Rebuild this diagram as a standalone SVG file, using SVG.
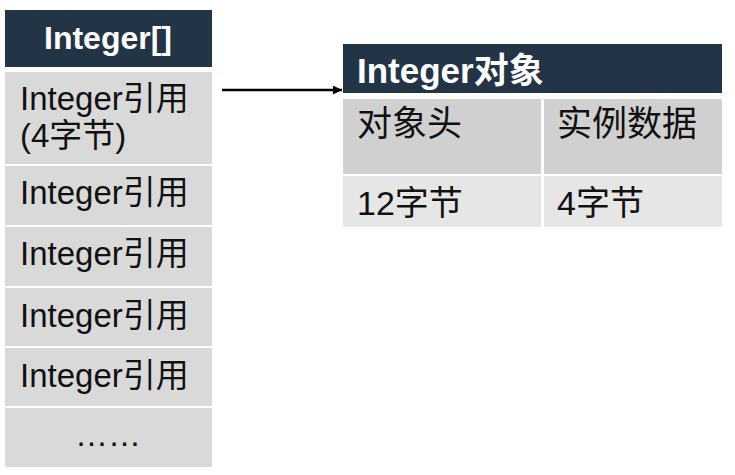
<svg xmlns="http://www.w3.org/2000/svg" width="735" height="475" viewBox="0 0 735 475">
<defs>
<style>
.hdr{fill:#243447}
.cell{fill:#d9d9d9}
.cellA{fill:#d0d0d0}
.cellB{fill:#e6e6e6}
.t{font-family:"Liberation Sans","Noto Sans CJK SC",sans-serif;fill:#111}
.h{font-family:"Liberation Sans","Noto Sans CJK SC",sans-serif;font-weight:bold;fill:#ffffff}
</style>
<marker id="arr" viewBox="0 0 10 10" refX="10" refY="5" markerWidth="12" markerHeight="9" markerUnits="userSpaceOnUse" orient="auto">
<path d="M0,0 L10,5 L0,10 z" fill="#000"/>
</marker>
</defs>
<rect width="735" height="475" fill="#ffffff"/>
<g id="array">
<rect class="hdr" x="5" y="10" width="207" height="57"/>
<text class="h" x="108" y="49" font-size="32" text-anchor="middle">Integer[]</text>
<rect class="cell" x="5" y="72" width="207" height="92"/>
<text class="t" x="20" y="110" font-size="33">Integer引用</text>
<text class="t" x="20" y="147" font-size="33">(4字节)</text>
<rect class="cell" x="5" y="166" width="207" height="59"/>
<text class="t" x="20" y="204" font-size="33">Integer引用</text>
<rect class="cell" x="5" y="227" width="207" height="59"/>
<text class="t" x="20" y="265" font-size="33">Integer引用</text>
<rect class="cell" x="5" y="288" width="207" height="58"/>
<text class="t" x="20" y="327" font-size="33">Integer引用</text>
<rect class="cell" x="5" y="348" width="207" height="58"/>
<text class="t" x="20" y="387" font-size="33">Integer引用</text>
<rect class="cell" x="5" y="408" width="207" height="59"/>
<text class="t" x="108" y="446" font-size="33" text-anchor="middle">……</text>
</g>
<g id="object">
<rect class="hdr" x="343" y="44" width="379" height="49"/>
<text class="h" x="357" y="83" font-size="35">Integer对象</text>
<rect class="cellA" x="343" y="99" width="198" height="75"/>
<rect class="cellA" x="544" y="99" width="178" height="75"/>
<text class="t" x="357" y="136" font-size="35">对象头</text>
<text class="t" x="557" y="136" font-size="35">实例数据</text>
<rect class="cellB" x="343" y="176" width="198" height="51"/>
<rect class="cellB" x="544" y="176" width="178" height="51"/>
<text class="t" x="357" y="215" font-size="34">12字节</text>
<text class="t" x="557" y="215" font-size="34">4字节</text>
</g>
<g id="connectors">
<line x1="222" y1="90" x2="342" y2="90" stroke="#000" stroke-width="2.5" marker-end="url(#arr)"/>
</g>
</svg>
